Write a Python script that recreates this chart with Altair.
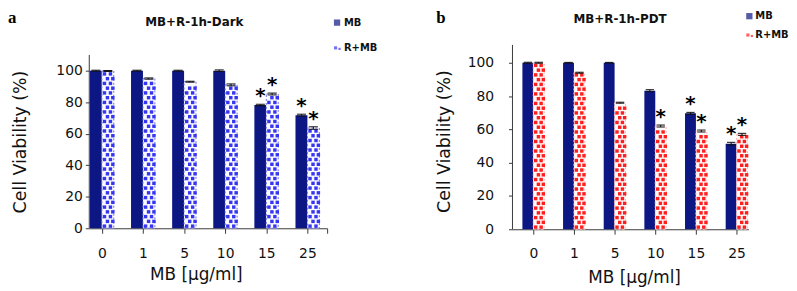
import altair as alt
import pandas as pd

# ---------------- data ----------------
doses = ["0", "1", "5", "10", "15", "25"]
series = ["MB", "R+MB"]
y_ticks = [0, 20, 40, 60, 80, 100]

dark_mb = [100.0, 100.0, 100.0, 100.0, 78.2, 71.8]
dark_mb_err = [0.3, 0.3, 0.3, 0.5, 0.5, 0.6]
dark_rmb = [99.8, 95.0, 93.0, 91.0, 85.2, 63.6]
dark_rmb_err = [0.3, 0.4, 0.3, 0.6, 0.6, 0.8]
dark_mb_sig = [0, 0, 0, 0, 1, 1]
dark_rmb_sig = [0, 0, 0, 0, 1, 1]

pdt_mb = [100.0, 100.0, 100.0, 83.2, 69.6, 51.4]
pdt_mb_err = [0.3, 0.2, 0.2, 0.6, 0.6, 0.8]
pdt_rmb = [100.0, 94.0, 76.0, 62.0, 59.0, 57.0]
pdt_rmb_err = [0.3, 0.3, 0.3, 0.6, 0.6, 0.6]
pdt_mb_sig = [0, 0, 0, 0, 1, 1]
pdt_rmb_sig = [0, 0, 0, 1, 1, 1]

NAVY = "#0c1783"
FONT = "DejaVu Sans"
AXIS_COLOR = "#3a3a3a"


def panel(title, letter, mb, mb_err, mb_sig, rmb, rmb_err, rmb_sig, cfg):
    bw = cfg["bw"]
    rows = []
    for i, d in enumerate(doses):
        rows.append(dict(idx=i, s=series[0], v=mb[i], e=mb_err[i], sig=mb_sig[i],
                         x0=i - bw, x1=i, xc=i - bw / 2))
        rows.append(dict(idx=i, s=series[1], v=rmb[i], e=rmb_err[i], sig=rmb_sig[i],
                         x0=i, x1=i + bw, xc=i + bw / 2))
    df = pd.DataFrame(rows)
    df["lo"] = df["v"] - df["e"]
    df["hi"] = df["v"] + df["e"]
    df["c0"] = df["xc"] - bw * 0.38
    df["c1"] = df["xc"] + bw * 0.38

    # checker pattern decoration inside the R+MB bars
    ppu = cfg["H"] / cfg["ymax"]
    step = 4.8 / ppu
    pat = []
    for i in range(len(doses)):
        top = rmb[i] - 1.8 / ppu
        r = 0
        while step * (r + 0.45) < top:
            yv = step * (r + 0.45)
            fr = [0.22, 0.72] if r % 2 == 0 else [0.47, 0.92]
            for f in fr:
                pat.append(dict(px=i + bw * f, py=yv))
            r += 1
    pdf = pd.DataFrame(pat)

    xs = alt.Scale(domain=cfg["xdom"], nice=False, zero=False)
    ys = alt.Scale(domain=[0, cfg["ymax"]], nice=False, zero=True)
    n = len(doses)
    tick_vals = list(range(n)) + cfg["extra_ticks"]
    label_expr = ("datum.value < %d ? [" % n + ",".join("'%s'" % d for d in doses)
                  + "][datum.value] : ''")
    xaxis = alt.Axis(values=tick_vals, labelExpr=label_expr, grid=False, labelOverlap=False,
                     tickSize=5, tickColor=AXIS_COLOR, domainColor=AXIS_COLOR,
                     labelFont=FONT, labelFontSize=14, labelColor="#111",
                     labelPadding=cfg["xlp"], title="MB [\u03bcg/ml]", titleFont=FONT,
                     titleFontSize=17, titleFontWeight="normal", titleColor="#111",
                     titlePadding=cfg["xtp"], titleX=cfg["xtx"], titleAlign="center")
    yaxis = alt.Axis(values=y_ticks, grid=False, tickSize=4, labelOverlap=False,
                     labelFlush=False,
                     tickColor=AXIS_COLOR, domain=False, labelFont=FONT,
                     labelFontSize=14, labelColor="#111", labelPadding=cfg["ylp"],
                     title="Cell Viability (%)", titleFont=FONT, titleFontSize=17.5,
                     titleFontWeight="normal", titleColor="#111",
                     titlePadding=cfg["ytp"], titleY=cfg["yty"])

    def X(f):
        return alt.X(f, type="quantitative", scale=xs, axis=xaxis)

    def Y(f):
        return alt.Y(f, type="quantitative", scale=ys, axis=yaxis)

    base = alt.Chart(df)
    mb_bars = base.transform_filter(alt.datum.s == series[0]).mark_bar(
        color=NAVY).encode(x=X("x0"), x2="x1", y=Y("v"), y2=alt.datum(0))
    rmb_bars = base.transform_filter(alt.datum.s == series[1]).mark_bar(
        fill=cfg["bg"], stroke=cfg["edge"], strokeDash=[2, 2], strokeWidth=1).encode(
        x=X("x0"), x2="x1", y=Y("v"), y2=alt.datum(0))
    squares = alt.Chart(pdf).mark_square(size=12, color=cfg["dot"], opacity=1).encode(
        x=X("px"), y=Y("py"))
    err = base.mark_rule(color="#111", strokeWidth=1).encode(x=X("xc"), y=Y("lo"), y2="hi")
    cap_hi = base.mark_rule(color="#111", strokeWidth=1).encode(x=X("c0"), x2="c1", y=Y("hi"))
    cap_lo = base.mark_rule(color="#111", strokeWidth=1).encode(x=X("c0"), x2="c1", y=Y("lo"))
    stars = base.transform_filter(alt.datum.sig == 1).mark_text(
        text="*", font=FONT, fontSize=20, fontWeight="bold", baseline="alphabetic",
        align="center", dy=-2, color="#000").encode(x=X("xc"), y=Y("hi"))
    # y axis line (stops at 110 so the plot area can be taller above it)
    ydf = pd.DataFrame({"y0": [0.0], "y1": [cfg["ytop"]]})
    yline = alt.Chart(ydf).mark_rule(color=AXIS_COLOR, strokeWidth=1).encode(
        x=alt.value(0), y=Y("y0"), y2="y1")

    one = pd.DataFrame({"t": [title]})
    ttl = alt.Chart(one).mark_text(font=FONT, fontSize=12, fontWeight="bold",
                                   color="#111", align="center", baseline="middle").encode(
        text="t:N", x=alt.value(cfg["tx"]), y=alt.value(cfg["ty"]))
    lt = pd.DataFrame({"t": [letter]})
    lab = alt.Chart(lt).mark_text(font="Liberation Serif", fontSize=17, fontWeight="bold",
                                  color="#000", align="left", baseline="alphabetic").encode(
        text="t:N", x=alt.value(cfg["lx"]), y=alt.value(cfg["ly"]))

    lg = pd.DataFrame({"t": series})
    lg_mb_sym = alt.Chart(lg.iloc[[0]]).mark_square(size=40, color=NAVY).encode(
        x=alt.value(cfg["gx"]), y=alt.value(cfg["gy0"]))
    lg_r1 = alt.Chart(lg.iloc[[1]]).mark_square(size=10, color=cfg["dot"]).encode(
        x=alt.value(cfg["gx"] - 1.5), y=alt.value(cfg["gy1"]))
    lg_r2 = alt.Chart(lg.iloc[[1]]).mark_square(size=5, color=cfg["dot"]).encode(
        x=alt.value(cfg["gx"] + 2.5), y=alt.value(cfg["gy1"] + 1))
    lg_t0 = alt.Chart(lg.iloc[[0]]).mark_text(font=FONT, fontSize=10, fontWeight="bold",
                                              align="left", baseline="middle", color="#111").encode(
        text="t:N", x=alt.value(cfg["gtx"]), y=alt.value(cfg["gy0"]))
    lg_t1 = alt.Chart(lg.iloc[[1]]).mark_text(font=FONT, fontSize=10, fontWeight="bold",
                                              align="left", baseline="middle", color="#111").encode(
        text="t:N", x=alt.value(cfg["gtx"]), y=alt.value(cfg["gy1"]))

    return alt.layer(mb_bars, rmb_bars, squares, err, cap_hi, cap_lo, stars, yline, ttl, lab,
                     lg_mb_sym, lg_r1, lg_r2, lg_t0, lg_t1).properties(
        width=cfg["W"], height=cfg["H"])


# both plot areas start at y=43 on the page
left_cfg = dict(W=240, H=185, ymax=116.35, ytop=110, xdom=[-0.306, 5.48], bw=0.29,
                extra_ticks=[5.48],
                xlp=13, xtp=7, xtx=107.5, ylp=3, ytp=27, yty=97.5,
                bg="#fbfbff", edge="#6b6bf0", dot="#3535f2",
                tx=106, ty=-23, lx=-82, ly=-22,
                gx=250, gy0=-22.5, gy1=3, gtx=257)
right_cfg = dict(W=238, H=186, ymax=110.7, ytop=110.7, xdom=[-0.512, 5.29], bw=0.268,
                 extra_ticks=[],
                 xlp=12, xtp=10, xtx=122.7, ylp=15, ytp=14, yty=97,
                 bg="#fffafa", edge="#ffb3b3", dot="#ff1f1f",
                 tx=108.5, ty=-26.5, lx=-77, ly=-22,
                 gx=239, gy0=-29, gy1=-10, gtx=245)

left = panel("MB+R-1h-Dark", "a", dark_mb, dark_mb_err, dark_mb_sig,
             dark_rmb, dark_rmb_err, dark_rmb_sig, left_cfg)
right = panel("MB+R-1h-PDT", "b", pdt_mb, pdt_mb_err, pdt_mb_sig,
              pdt_rmb, pdt_rmb_err, pdt_rmb_sig, right_cfg)

chart = alt.hconcat(left, right, spacing=58).properties(
    padding={"left": 0, "top": 0, "right": 0, "bottom": 0}
).configure_view(stroke=None)

chart.save("out.html", embed_options={"renderer": "svg", "actions": False})
